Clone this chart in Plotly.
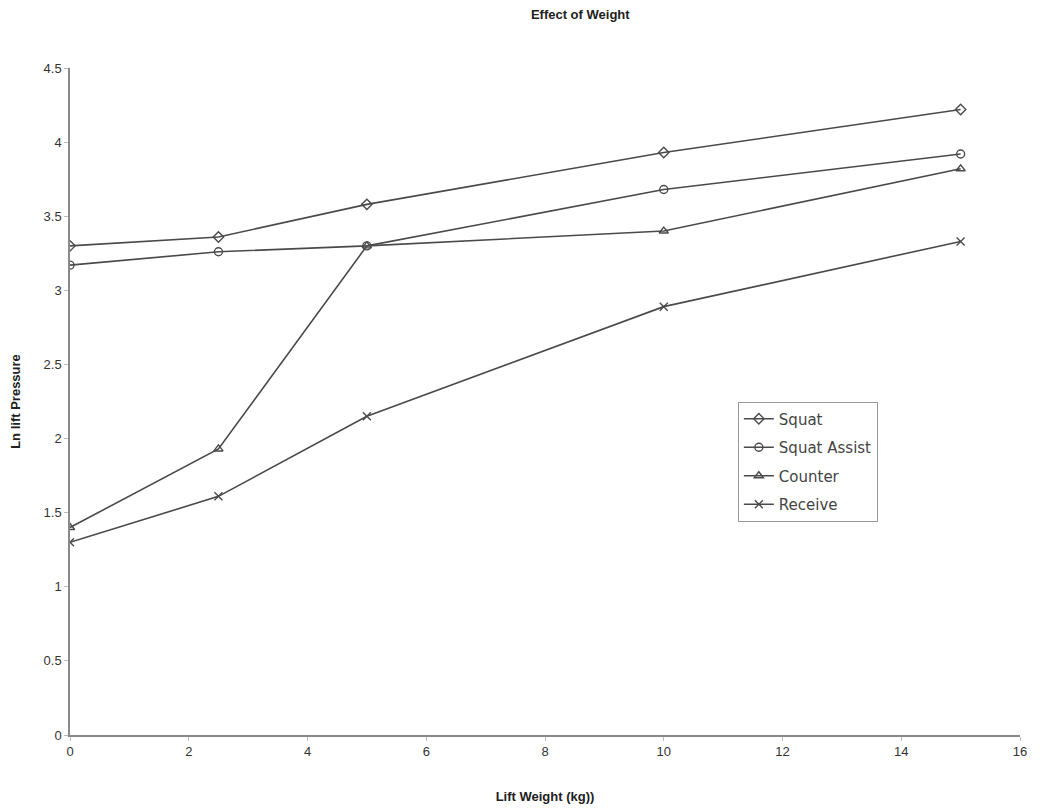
import plotly.graph_objects as go

# Lift weight (kg) and Ln lift pressure for each lift type
lift_weight = [0, 2.5, 5, 10, 15]
squat = [3.30, 3.36, 3.58, 3.93, 4.22]
squat_assist = [3.17, 3.26, 3.30, 3.68, 3.92]
counter = [1.40, 1.93, 3.30, 3.40, 3.82]
receive = [1.30, 1.61, 2.15, 2.89, 3.33]

series = [
    ("Squat", squat, "diamond-open"),
    ("Squat Assist", squat_assist, "circle-open"),
    ("Counter", counter, "triangle-up-open"),
    ("Receive", receive, "x-thin-open"),
]

LINE = "#4a4a4a"
FONT = "Liberation Sans, Arial, sans-serif"

fig = go.Figure()

for name, values, symbol in series:
    fig.add_trace(go.Scatter(
        x=lift_weight,
        y=values,
        name=name,
        legendgroup=name,
        mode="lines+markers",
        line=dict(color=LINE, width=1.6),
        marker=dict(symbol=symbol, size=8, color=LINE,
                    line=dict(color=LINE, width=1.4)),
    ))

fig.update_layout(
    width=1050,
    height=808,
    paper_bgcolor="white",
    plot_bgcolor="white",
    margin=dict(l=62, r=38, t=60, b=81),
    font=dict(family=FONT, size=13, color="#333333"),
    title=dict(text="<b>Effect of Weight</b>", x=0.545, xanchor="center",
               y=0.998, yanchor="top", font=dict(size=13, color="#222222")),
    xaxis=dict(
        range=[0, 16], dtick=2, tick0=0, automargin=False,
        showgrid=False, zeroline=False,
        showline=True, linecolor="#8a8a8a", linewidth=1.5,
        ticks="outside", ticklen=4, tickcolor="#bbbbbb",
        title=dict(text="<b>Lift Weight (kg))</b>", standoff=34,
                   font=dict(size=13, color="#222222")),
    ),
    yaxis=dict(
        range=[0, 4.5], dtick=0.5, tick0=0, automargin=False,
        showgrid=False, zeroline=False,
        showline=True, linecolor="#8a8a8a", linewidth=1.5,
        ticks="outside", ticklen=4, tickcolor="#bbbbbb",
        title=dict(text="<b>Ln lift Pressure</b>", standoff=26,
                   font=dict(size=13, color="#222222")),
    ),
    legend=dict(
        x=0.703, y=0.50, xanchor="left", yanchor="top",
        bordercolor="#999999", borderwidth=1,
        bgcolor="white",
        font=dict(family="DejaVu Sans, sans-serif", size=15, color="#444444"),
        itemwidth=30,
        tracegroupgap=6,
    ),
)

fig.write_html("out.html")
